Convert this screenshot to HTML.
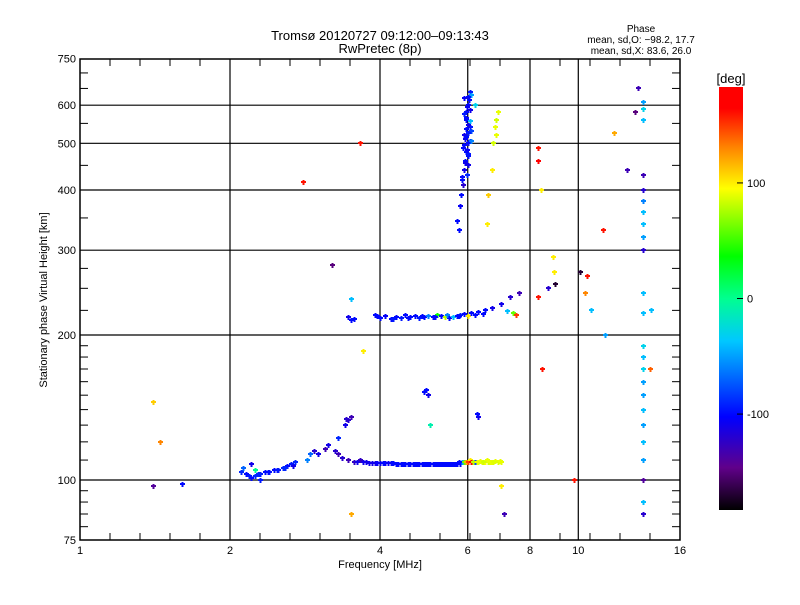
<!DOCTYPE html>
<html><head><meta charset="utf-8"><style>
body{margin:0;background:#fff;}
svg text{font-family:"Liberation Sans","DejaVu Sans",sans-serif;fill:#000;}
</style></head><body>
<svg id="chart" width="800" height="600" viewBox="0 0 800 600" xmlns="http://www.w3.org/2000/svg">
<defs>
<linearGradient id="cb" x1="0" y1="1" x2="0" y2="0">
<stop offset="0" stop-color="#000000"/><stop offset="0.1" stop-color="#60008a"/><stop offset="0.22" stop-color="#0000ff"/><stop offset="0.4" stop-color="#00c8ff"/><stop offset="0.5" stop-color="#00ff90"/><stop offset="0.6" stop-color="#00ff00"/><stop offset="0.76" stop-color="#ffff00"/><stop offset="0.86" stop-color="#ff8000"/><stop offset="0.95" stop-color="#ff0000"/><stop offset="1" stop-color="#ff0000"/>
</linearGradient></defs>
<text x="380" y="40" font-size="13" text-anchor="middle">Tromsø 20120727 09:12:00–09:13:43</text>
<text x="380" y="53" font-size="13" text-anchor="middle">RwPretec (8p)</text>
<text x="641" y="32" font-size="10" text-anchor="middle">Phase</text>
<text x="641" y="43" font-size="10" text-anchor="middle">mean, sd,O: −98.2, 17.7</text>
<text x="641" y="54" font-size="10" text-anchor="middle">mean, sd,X:  83.6, 26.0</text>
<g id="grid"></g>
<g id="marks" shape-rendering="crispEdges"></g>
<rect x="80" y="59" width="600" height="481" fill="none" stroke="#000" stroke-width="1.5"/>
<g id="axes"></g>
<text x="380" y="568" font-size="11" text-anchor="middle">Frequency [MHz]</text>
<text transform="translate(47,300) rotate(-90)" font-size="11" text-anchor="middle">Stationary phase Virtual Height [km]</text>
<text x="731" y="83" font-size="13" text-anchor="middle">[deg]</text>
<rect x="719" y="87" width="24" height="423" fill="url(#cb)"/>
<g id="cbax"></g>
</svg>
<script>
const xTicks=[1,2,4,6,8,10,16];
const yTicks=[75,100,200,300,400,500,600,750];
const yGrid=[100,200,300,400,500,600];
const xGrid=[2,4,6,8,10];
const yMinor=[80,85,90,95,110,120,130,140,150,160,170,180,190,225,250,275,350,450,550,650,700];
const cbTicks=[100,0,-100];
// points: frequency (MHz), height (km), phase (deg)
const freqs=[2.1,2.15,2.2,2.25,2.3,2.35,2.4,2.45,2.5,2.55,2.6,2.65,2.7,2.3,2.2,2.25,2.12,2.85,2.9,2.95,3.0,3.1,3.15,3.3,3.4,3.45,3.5,
3.3,3.35,3.45,3.55,3.6,3.7,3.8,3.9,4.0,4.1,4.2,4.3,4.4,4.5,4.6,4.7,4.8,4.9,5.0,5.1,5.2,5.3,5.4,5.5,5.6,5.7,5.8,5.85,5.9,5.95,6.0,6.05,6.1,6.2,6.3,6.4,6.5,6.6,6.7,6.8,6.9,7.0,
4.9,5.0,4.95,5.05,6.3,6.25,
3.45,3.5,3.9,4.0,4.1,4.2,4.3,4.4,4.5,4.6,4.7,4.8,4.9,5.0,5.1,5.2,5.3,5.4,5.5,5.6,5.7,5.8,5.9,6.0,6.1,6.3,6.5,6.7,7.0,7.3,7.6,7.2,7.4,3.5,
5.75,5.7,5.8,5.82,5.85,5.9,5.92,5.95,6.0,5.9,6.05,5.95,6.0,5.9,6.05,5.88,5.98,6.02,5.93,6.08,5.96,6.1,6.2,6.0,5.87,
6.8,6.85,6.9,6.75,6.7,6.6,6.55,6.85,
13.5,13.5,13.5,13.5,13.5,13.5,13.5,13.5,13.5,13.5,13.5,13.5,13.5,13.5,13.5,13.5,13.5,13.5,13.5,13.5,13.5,13.5,13.5,13.5,13.9,14,13.2,13.0,12.5,11.8,11.3,11.2,
1.4,1.45,1.4,1.6,2.8,3.65,3.7,3.5,3.2,7.1,7.0,7.5,8.3,8.3,8.3,8.45,8.7,8.9,8.95,9.0,9.8,10.1,10.4,10.3,10.6,8.4,
2.18,2.28,2.38,2.48,2.58,2.68,3.25,3.42,3.65,3.75,3.85,3.95,4.05,4.15,4.25,4.35,4.45,4.55,4.65,4.75,4.85,4.95,5.05,5.15,5.25,5.35,5.45,5.55,5.65,5.75,
6.15,6.25,6.35,6.45,6.55,6.65,6.75,6.95,3.55,3.95,4.25,4.55,4.85,5.15,5.45,5.75,6.2,6.45,
5.95,6.0,5.9,6.05,5.97,6.03,5.92,6.0,5.95,6.07,5.85,5.99,6.01,5.94,6.06,5.9,6.1,6.0];
const heights=[104,103,101,102,103,104,104,105,105,106,107,108,109,100,108,105,106,110,113,115,113,116,118,122,130,133,135,
113,111,110,109,109,109,108.5,108.5,108.5,108.5,108.5,108,108,108,108,108,108,108,108,108,108,108,108,108,108,108,108,109,109,109,109,110,109,109,109,109,109,109,109,109.5,109,109,
152,150,154,130,135,137,
218,215,220,217,219,216,218,217,220,218,219,217,218,219,218,220,219,218,217,218,219,220,221,219,222,223,225,228,232,240,245,224,222,237,
330,345,370,390,420,440,460,480,500,520,540,560,600,620,640,410,430,470,510,530,580,630,600,450,490,
540,560,580,500,440,390,340,520,
610,590,560,430,400,380,360,340,320,300,245,222,190,180,170,160,150,140,130,120,110,100,90,85,170,225,650,580,440,525,200,330,
145,120,97,98,415,500,185,85,280,85,97,220,490,460,240,170,250,290,270,255,100,270,265,245,225,400,
102,103,104,105,106,107,115,134,110,109,108.5,108.5,108.5,108.5,108.5,108,108,108,108,108,108,108,108,108,108,108,108,108,108,109,
109,109,109.5,109,110,109,109,109.5,216,219,216,217,219,218,220,219,220,221,
515,545,575,505,595,615,455,475,535,555,425,485,525,565,585,495,505,625];
const phases=[-90,-100,-100,-90,-95,-100,-95,-100,-95,-90,-100,-95,-90,-95,-110,0,-70,-60,-70,-120,-110,-130,-110,-90,-110,-120,-130,
-130,-120,-130,-125,-110,-110,-110,-110,-105,-105,-100,-100,-100,-100,-100,-100,-100,-100,-100,-100,-100,-100,-100,-100,-100,-100,-100,-50,60,120,150,100,170,-80,90,90,95,85,90,90,88,90,
-100,-110,-100,-10,-110,-100,
-110,-100,-100,-100,-105,-100,-100,-95,-100,-100,-100,-95,-100,-60,-100,40,-100,80,-100,-40,-100,-90,-100,100,-100,-100,-100,-110,-110,-120,-130,-40,60,-40,
-100,-100,-105,-100,-100,-110,-100,-100,-100,-110,-95,-100,-100,-105,-95,-120,-90,-100,-110,-80,-100,-50,-30,-110,-100,
90,85,90,85,100,110,100,90,
-50,-30,-40,-130,-120,-60,-40,-40,-50,-120,-40,-40,-30,-40,-30,-50,-50,-40,-50,-40,-50,-140,-40,-120,140,-40,-130,-150,-130,120,-50,160,
110,130,-140,-100,160,160,100,120,-150,-130,100,150,160,170,160,160,-120,100,100,-170,160,-170,160,130,-40,100,
-95,-90,-100,-95,-90,-110,-120,-120,-125,-110,-110,-105,-100,-105,-100,-100,-100,-100,-100,-100,-100,-100,-100,-100,-100,-100,-100,-100,-100,-100,
80,90,90,85,90,90,88,90,-100,-100,-95,-100,-100,-100,-60,-100,-100,-100,
-100,-110,-95,-100,-105,-100,-110,-95,-100,-40,-100,-105,-95,-100,-110,-100,-60,-100];
const X0=80,X1=680,Y100=480,PX_OCT_Y=145;
function xs(f){return X0+(X1-X0)*Math.log2(f)/4;}
function ys(h){return Y100-PX_OCT_Y*Math.log2(h/100);}
function cbY(p){return 510-(p+183)/366*423;}
const stops=[[0,[0,0,0]],[0.1,[96,0,138]],[0.22,[0,0,255]],[0.4,[0,200,255]],[0.5,[0,255,144]],[0.6,[0,255,0]],[0.76,[255,255,0]],[0.86,[255,128,0]],[0.95,[255,0,0]],[1,[255,0,0]]];
function col(p){let t=Math.max(0,Math.min(1,(p+183)/366));for(let i=1;i<stops.length;i++){if(t<=stops[i][0]){const a=stops[i-1],b=stops[i];const u=(t-a[0])/(b[0]-a[0]);const c=a[1].map((v,k)=>Math.round(v+(b[1][k]-v)*u));return `rgb(${c})`;}}return 'red';}
const NS='http://www.w3.org/2000/svg';
function mk(tag,attrs,parent){const e=document.createElementNS(NS,tag);for(const k in attrs)e.setAttribute(k,attrs[k]);parent.appendChild(e);return e;}
const grid=document.getElementById('grid'),axes=document.getElementById('axes'),marks=document.getElementById('marks'),cbax=document.getElementById('cbax');
xGrid.forEach(f=>{const l=mk('line',{x1:xs(f),x2:xs(f),y1:59,y2:540,stroke:'#000','stroke-width':1.2},grid);

});
yGrid.forEach(h=>{const l=mk('line',{x1:80,x2:680,y1:ys(h),y2:ys(h),stroke:'#000','stroke-width':1.2},grid);

});
xTicks.forEach(f=>{const t=mk('text',{x:xs(f),y:554,'font-size':11,'text-anchor':'middle'},axes);t.textContent=f;

});
for(let o=0;o<4;o++){for(let k=1;k<5;k++){const x=X0+o*150+k*30;mk('line',{x1:x,x2:x,y1:540,y2:533,stroke:'#000'},axes);mk('line',{x1:x,x2:x,y1:59,y2:66,stroke:'#000'},axes);}}
yTicks.forEach(h=>{const t=mk('text',{x:76,y:ys(h)+4,'font-size':11,'text-anchor':'end'},axes);t.textContent=h;

});
yMinor.forEach(h=>{const y=ys(h);mk('line',{x1:80,x2:88,y1:y,y2:y,stroke:'#000'},axes);mk('line',{x1:680,x2:672,y1:y,y2:y,stroke:'#000'},axes);});
cbTicks.forEach(p=>{const y=cbY(p);mk('line',{x1:743,x2:737,y1:y,y2:y,stroke:'#000'},cbax);const t=mk('text',{x:747,y:y+4,'font-size':11},cbax);t.textContent=p;

});
for(let i=0;i<freqs.length;i++){const x=Math.round(xs(freqs[i])),y=Math.round(ys(heights[i])),c=col(phases[i]);
const g=mk('path',{d:`M${x-2} ${y}H${x+3}M${x+0.5} ${y-2}V${y+3}`,stroke:c,'stroke-width':1.6,fill:'none'},marks);

}
</script>
</body></html>
